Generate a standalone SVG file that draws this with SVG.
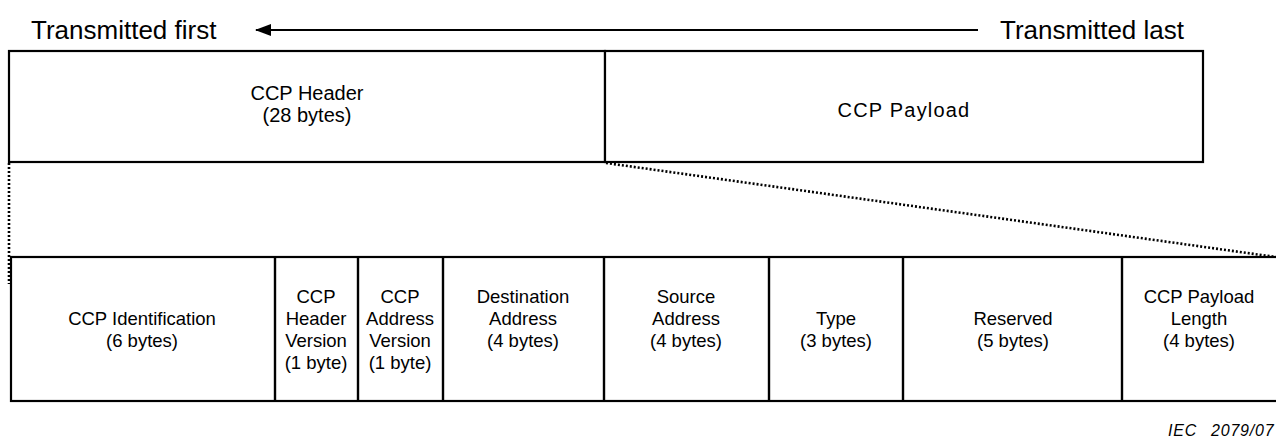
<svg xmlns="http://www.w3.org/2000/svg" width="1276" height="442" viewBox="0 0 1276 442">
  <style>
    .box { fill: #ffffff; stroke: #000000; stroke-width: 2.2; }
    .div { stroke: #000000; stroke-width: 2.4; fill: none; }
    .dot { stroke: #000000; stroke-width: 2.6; stroke-dasharray: 2 2; fill: none; }
    .hdr { font-family: "Liberation Sans", Arial, sans-serif; font-size: 26px; fill: #000000; }
    .top { font-family: "Liberation Sans", Arial, sans-serif; font-size: 20px; fill: #000000; text-anchor: middle; }
    .fld { font-family: "Liberation Sans", Arial, sans-serif; font-size: 18.5px; fill: #000000; text-anchor: middle; }
    .ref { font-family: "Liberation Sans", Arial, sans-serif; font-size: 16px; font-style: italic; fill: #000000; letter-spacing: 0.8px; }
  </style>
  <defs>
    <!-- solid triangle pointing along the line direction -->
    <marker id="arrowhead" markerWidth="16" markerHeight="12" refX="15" refY="6" orient="auto" markerUnits="userSpaceOnUse">
      <path d="M0,0 L16,6 L0,12 Z" fill="#000000"/>
    </marker>
  </defs>

  <rect width="1276" height="442" fill="#ffffff"/>

  <!-- transmission order -->
  <g id="order">
    <text class="hdr" x="31" y="39">Transmitted first</text>
    <text class="hdr" x="1000" y="39">Transmitted last</text>
    <line x1="978" y1="30" x2="256" y2="30" stroke="#000000" stroke-width="2" marker-end="url(#arrowhead)"/>
  </g>

  <!-- connectors: expansion of the header into its fields -->
  <g id="connectors">
    <line class="dot" x1="9" y1="163" x2="9" y2="284"/>
    <line class="dot" x1="606" y1="163" x2="1290" y2="259"/>
  </g>

  <!-- frame -->
  <g id="ccp-header">
    <rect class="box" x="9" y="51" width="596" height="111"/>
    <text class="top" x="307" y="100">CCP Header</text>
    <text class="top" x="307" y="122">(28 bytes)</text>
  </g>
  <g id="ccp-payload">
    <rect class="box" x="605" y="51" width="598" height="111"/>
    <text class="top" x="904" y="117" letter-spacing="1.2">CCP Payload</text>
  </g>

  <!-- header fields -->
  <g id="fields-frame">
    <rect class="box" x="11" y="257" width="1290" height="144"/>
  </g>

  <g id="ccp-identification">
    <text class="fld" x="142" y="325">CCP Identification</text>
    <text class="fld" x="142" y="347">(6 bytes)</text>
  </g>
  <g id="ccp-header-version">
    <line class="div" x1="275" y1="257" x2="275" y2="401"/>
    <text class="fld" x="316" y="303">CCP</text>
    <text class="fld" x="316" y="325">Header</text>
    <text class="fld" x="316" y="347">Version</text>
    <text class="fld" x="316" y="369">(1 byte)</text>
  </g>
  <g id="ccp-address-version">
    <line class="div" x1="358" y1="257" x2="358" y2="401"/>
    <text class="fld" x="400" y="303">CCP</text>
    <text class="fld" x="400" y="325">Address</text>
    <text class="fld" x="400" y="347">Version</text>
    <text class="fld" x="400" y="369">(1 byte)</text>
  </g>
  <g id="destination-address">
    <line class="div" x1="443" y1="257" x2="443" y2="401"/>
    <text class="fld" x="523" y="303">Destination</text>
    <text class="fld" x="523" y="325">Address</text>
    <text class="fld" x="523" y="347">(4 bytes)</text>
  </g>
  <g id="source-address">
    <line class="div" x1="604" y1="257" x2="604" y2="401"/>
    <text class="fld" x="686" y="303">Source</text>
    <text class="fld" x="686" y="325">Address</text>
    <text class="fld" x="686" y="347">(4 bytes)</text>
  </g>
  <g id="type">
    <line class="div" x1="769" y1="257" x2="769" y2="401" stroke-width="3"/>
    <text class="fld" x="836" y="325">Type</text>
    <text class="fld" x="836" y="347">(3 bytes)</text>
  </g>
  <g id="reserved">
    <line class="div" x1="903" y1="257" x2="903" y2="401"/>
    <text class="fld" x="1013" y="325">Reserved</text>
    <text class="fld" x="1013" y="347">(5 bytes)</text>
  </g>
  <g id="ccp-payload-length">
    <line class="div" x1="1122" y1="257" x2="1122" y2="401"/>
    <text class="fld" x="1199" y="303">CCP Payload</text>
    <text class="fld" x="1199" y="325">Length</text>
    <text class="fld" x="1199" y="347">(4 bytes)</text>
  </g>

  <!-- figure reference -->
  <text class="ref" x="1168" y="436">IEC<tspan x="1211">2079/07</tspan></text>
</svg>
